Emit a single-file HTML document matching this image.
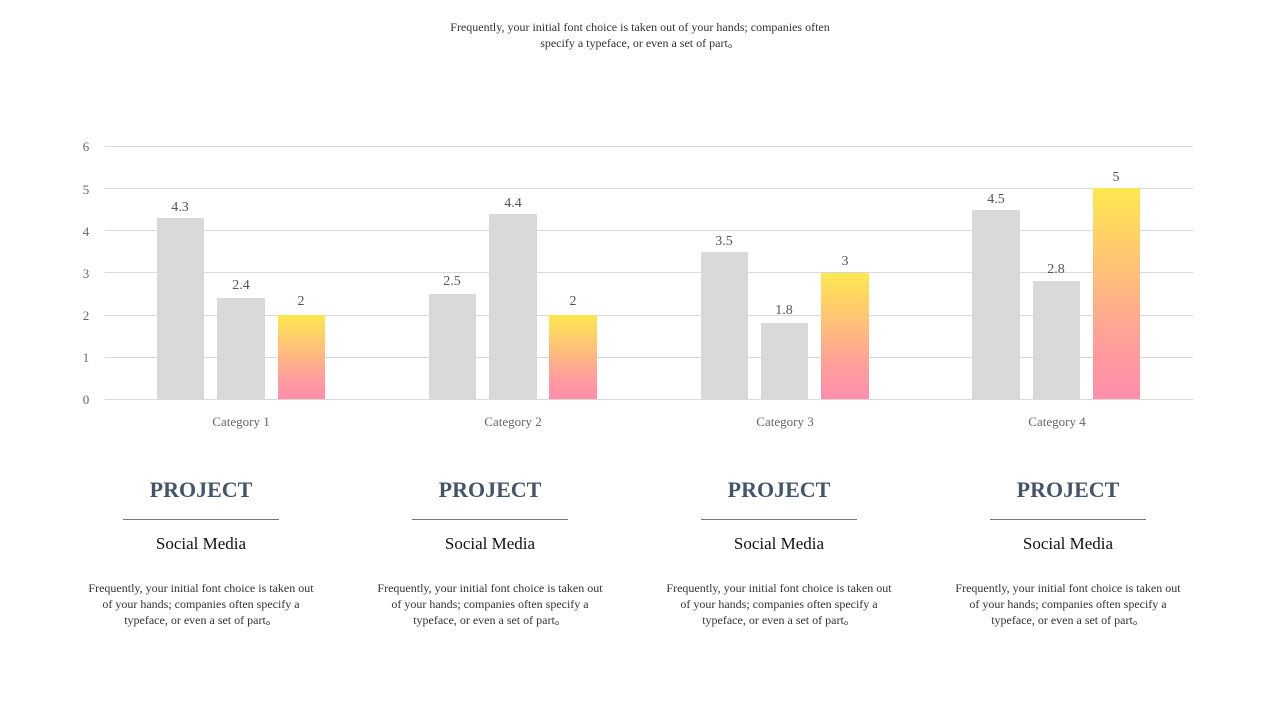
<!DOCTYPE html>
<html><head><meta charset="utf-8"><style>
body{margin:0;width:1280px;height:720px;background:#fff;font-family:"Liberation Serif",serif;position:relative;overflow:hidden}
.t{position:absolute;text-align:center;color:#333}
.d{font-size:12px;line-height:16px;white-space:nowrap;width:260px;top:580px}
</style></head><body>
<div class="t" style="left:390px;top:19px;width:500px;font-size:12px;line-height:16px;color:#333">Frequently, your initial font choice is taken out of your hands; companies often<br>specify a typeface, or even a set of part。</div>
<svg width="1280" height="720" style="position:absolute;left:0;top:0" font-family="Liberation Serif, serif">
<defs><linearGradient id="g" x1="0" y1="0" x2="0" y2="1"><stop offset="0" stop-color="#ffe84f"/><stop offset="0.75" stop-color="#ff9d9c"/><stop offset="1" stop-color="#ff8fab"/></linearGradient></defs>
<g stroke="#d9d9d9" stroke-width="1">
<line x1="105" x2="1193" y1="146.5" y2="146.5"/><line x1="105" x2="1193" y1="188.5" y2="188.5"/><line x1="105" x2="1193" y1="230.5" y2="230.5"/><line x1="105" x2="1193" y1="272.5" y2="272.5"/><line x1="105" x2="1193" y1="315.5" y2="315.5"/><line x1="105" x2="1193" y1="357.5" y2="357.5"/><line x1="105" x2="1193" y1="399.5" y2="399.5"/>
</g>
<g fill="#666" font-size="13" text-anchor="middle">
<text x="86" y="151">6</text><text x="86" y="194">5</text><text x="86" y="236">4</text><text x="86" y="278">3</text><text x="86" y="320">2</text><text x="86" y="362">1</text><text x="86" y="404">0</text>
<text x="241" y="426">Category 1</text><text x="513" y="426">Category 2</text><text x="785" y="426">Category 3</text><text x="1057" y="426">Category 4</text>
</g>
<g fill="#d9d9d9">
<rect x="157" y="218" width="47" height="181"/><rect x="217" y="298" width="48" height="101"/>
<rect x="429" y="294" width="47" height="105"/><rect x="489" y="214" width="48" height="185"/>
<rect x="701" y="252" width="47" height="147"/><rect x="761" y="323" width="47" height="76"/>
<rect x="972" y="210" width="48" height="189"/><rect x="1033" y="281" width="47" height="118"/>
</g>
<g fill="url(#g)">
<rect x="278" y="315" width="47" height="84"/><rect x="549" y="315" width="48" height="84"/><rect x="821" y="273" width="48" height="126"/><rect x="1093" y="188" width="47" height="211"/>
</g>
<g fill="#555" font-size="14" text-anchor="middle">
<text x="180" y="211">4.3</text><text x="241" y="289">2.4</text><text x="301" y="305">2</text>
<text x="452" y="285">2.5</text><text x="513" y="207">4.4</text><text x="573" y="305">2</text>
<text x="724" y="245">3.5</text><text x="784" y="314">1.8</text><text x="845" y="265">3</text>
<text x="996" y="203">4.5</text><text x="1056" y="273">2.8</text><text x="1116" y="181">5</text>
</g>
<g stroke="#777" stroke-width="1"><line x1="123" x2="279" y1="519.5" y2="519.5"/><line x1="412" x2="568" y1="519.5" y2="519.5"/><line x1="701" x2="857" y1="519.5" y2="519.5"/><line x1="990" x2="1146" y1="519.5" y2="519.5"/></g>
</svg>
<div class="t" style="left:101px;top:477px;width:200px;font-size:22px;font-weight:bold;color:#44546a">PROJECT</div>
<div class="t" style="left:390px;top:477px;width:200px;font-size:22px;font-weight:bold;color:#44546a">PROJECT</div>
<div class="t" style="left:679px;top:477px;width:200px;font-size:22px;font-weight:bold;color:#44546a">PROJECT</div>
<div class="t" style="left:968px;top:477px;width:200px;font-size:22px;font-weight:bold;color:#44546a">PROJECT</div>
<div class="t" style="left:101px;top:534px;width:200px;font-size:17px;color:#111">Social Media</div>
<div class="t" style="left:390px;top:534px;width:200px;font-size:17px;color:#111">Social Media</div>
<div class="t" style="left:679px;top:534px;width:200px;font-size:17px;color:#111">Social Media</div>
<div class="t" style="left:968px;top:534px;width:200px;font-size:17px;color:#111">Social Media</div>
<div class="t d" style="left:71px">Frequently, your initial font choice is taken out<br>of your hands; companies often specify a<br>typeface, or even a set of part。</div>
<div class="t d" style="left:360px">Frequently, your initial font choice is taken out<br>of your hands; companies often specify a<br>typeface, or even a set of part。</div>
<div class="t d" style="left:649px">Frequently, your initial font choice is taken out<br>of your hands; companies often specify a<br>typeface, or even a set of part。</div>
<div class="t d" style="left:938px">Frequently, your initial font choice is taken out<br>of your hands; companies often specify a<br>typeface, or even a set of part。</div>
</body></html>
